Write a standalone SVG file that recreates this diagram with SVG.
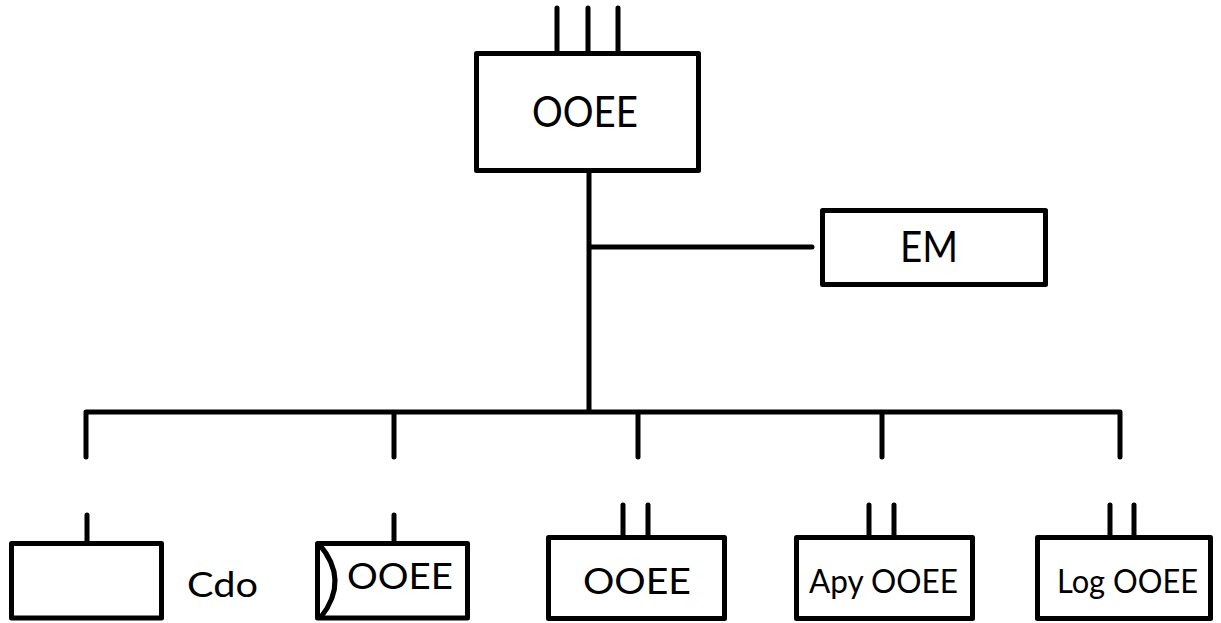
<svg xmlns="http://www.w3.org/2000/svg" width="1221" height="623" viewBox="0 0 1221 623">
<style>
.box{fill:#fff;stroke:#000;stroke-width:5;stroke-linejoin:round}
.ln{fill:none;stroke:#000;stroke-width:5;stroke-linecap:round;stroke-linejoin:round}
.t{font-family:Lato,"Liberation Sans",sans-serif;fill:#000}
</style>
<g id="connectors">
<path class="ln" d="M589,173 V412 M589,247 H812 M86,457 V412 H1120 V457 M394,412 V457 M638,412 V457 M882,412 V457"/>
</g>
<g id="top">
<path class="ln" d="M557,8 V52 M588,8 V52 M618,8 V52"/>
<rect class="box" x="476.5" y="53.5" width="222" height="117"/>
<text class="t" x="532" y="127" font-size="42" textLength="106" lengthAdjust="spacingAndGlyphs">OOEE</text>
</g>
<g id="em">
<rect class="box" x="822.5" y="210.5" width="223" height="74"/>
<text class="t" x="900" y="262" font-size="42" textLength="58" lengthAdjust="spacingAndGlyphs">EM</text>
</g>
<g id="cdo">
<path class="ln" d="M87,515 V542"/>
<rect class="box" x="11.5" y="543.5" width="150" height="74.5"/>
<text class="t" x="187" y="597" font-size="35" textLength="71" lengthAdjust="spacingAndGlyphs">Cdo</text>
</g>
<g id="ooee2">
<path class="ln" d="M394,515 V542"/>
<rect class="box" x="317.5" y="543.5" width="150" height="74.5"/>
<path class="ln" d="M319,544 Q350,580 321,617"/>
<text class="t" x="347" y="589" font-size="37" textLength="106" lengthAdjust="spacingAndGlyphs">OOEE</text>
</g>
<g id="ooee3">
<path class="ln" d="M623,505 V536 M648,505 V536"/>
<rect class="box" x="548.5" y="537.5" width="176" height="81"/>
<text class="t" x="583" y="594" font-size="36" textLength="108" lengthAdjust="spacingAndGlyphs">OOEE</text>
</g>
<g id="apy">
<path class="ln" d="M869,505 V536 M894,505 V536"/>
<rect class="box" x="796.5" y="537.5" width="176" height="81"/>
<text class="t" x="809" y="593" font-size="32" textLength="149" lengthAdjust="spacingAndGlyphs">Apy OOEE</text>
</g>
<g id="log">
<path class="ln" d="M1110,505 V536 M1134,505 V536"/>
<rect class="box" x="1037.5" y="537.5" width="173" height="81"/>
<text class="t" x="1057" y="593" font-size="32" textLength="141" lengthAdjust="spacingAndGlyphs">Log OOEE</text>
</g>
</svg>
